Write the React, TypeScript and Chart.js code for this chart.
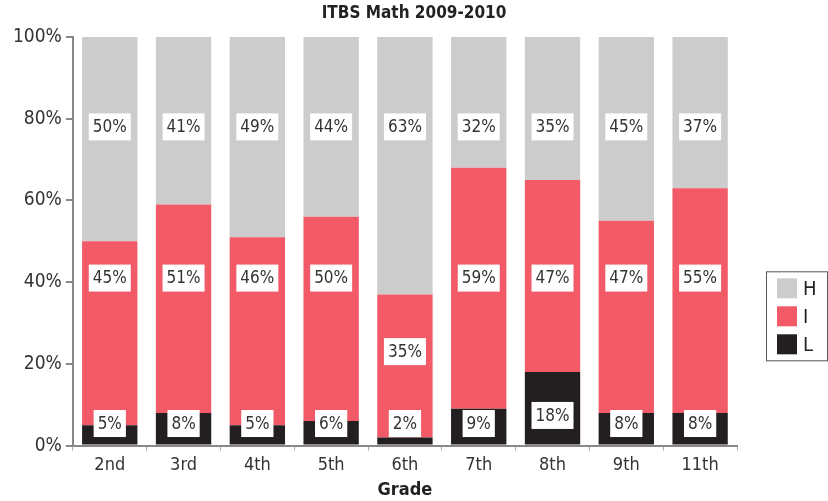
import React, { useEffect, useRef } from "react";
import { Chart, registerables } from "chart.js";

Chart.register(...registerables);

const grades = ["2nd", "3rd", "4th", "5th", "6th", "7th", "8th", "9th", "11th"];
const seriesL = [5, 8, 5, 6, 2, 9, 18, 8, 8];
const seriesI = [45, 51, 46, 50, 35, 59, 47, 47, 55];
const seriesH = [50, 41, 49, 44, 63, 32, 35, 45, 37];
const yTicks = [0, 20, 40, 60, 80, 100];
const TITLE = "ITBS Math 2009-2010";

const FONT = "'Liberation Sans Narrow', 'DejaVu Sans Condensed', 'Roboto', sans-serif";
const COLORS = { H: "#cccccc", I: "#f15a66", L: "#231f20" };

const labelPlugin = {
  id: "segLabels",
  afterDatasetsDraw(chart: any) {
    const ctx = chart.ctx;
    const y = chart.scales.y;
    ctx.save();
    ctx.font = `17px ${FONT}`;
    ctx.textAlign = "center";
    ctx.textBaseline = "middle";
    chart.data.datasets.forEach((ds: any, di: number) => {
      const meta = chart.getDatasetMeta(di);
      meta.data.forEach((bar: any, i: number) => {
        const L = seriesL[i];
        const top = L + seriesI[i];
        let v: number;
        if (ds.label === "L") v = Math.max(5.4, (L / 2) * 0.82);
        else if (ds.label === "I") v = top > 45 ? 41 : top - 14;
        else v = 78;
        const py = y.getPixelForValue(v);
        const text = ds.data[i] + "%";
        const w = ctx.measureText(text).width + 8;
        const h = 27;
        ctx.fillStyle = "#ffffff";
        ctx.fillRect(bar.x - w / 2, py - h / 2, w, h);
        ctx.fillStyle = "#333333";
        ctx.fillText(text, bar.x, py + 1);
      });
    });
    ctx.restore();
  },
};

const titleLegendPlugin = {
  id: "titleLegend",
  afterDraw(chart: any) {
    const ctx = chart.ctx;
    const area = chart.chartArea;
    ctx.save();
    ctx.font = `bold 17px ${FONT}`;
    ctx.fillStyle = "#222222";
    ctx.textAlign = "center";
    ctx.textBaseline = "middle";
    ctx.fillText(TITLE, chart.width / 2, 14);

    const items = [...chart.data.datasets].reverse();
    const left = area.right + 29;
    const top = (area.top + area.bottom) / 2 + 30;
    const w = 61;
    const h = 89;
    ctx.strokeStyle = "#555555";
    ctx.lineWidth = 1;
    ctx.strokeRect(left + 0.5, top + 0.5, w, h);
    ctx.font = `20px ${FONT}`;
    ctx.textAlign = "left";
    items.forEach((ds: any, k: number) => {
      const cy = top + 17 + k * 28;
      ctx.fillStyle = ds.backgroundColor;
      ctx.fillRect(left + 11, cy - 10, 20, 20);
      ctx.fillStyle = "#222222";
      ctx.fillText(ds.label, left + 37, cy + 1);
    });
    ctx.restore();
  },
};

export default function App() {
  const ref = useRef<HTMLCanvasElement>(null);
  useEffect(() => {
    document.body.style.margin = "0";
    const chart = new Chart(ref.current!, {
      type: "bar",
      data: {
        labels: grades,
        datasets: [
          { label: "L", data: seriesL, backgroundColor: COLORS.L, barPercentage: 0.75, categoryPercentage: 1 },
          { label: "I", data: seriesI, backgroundColor: COLORS.I, barPercentage: 0.75, categoryPercentage: 1 },
          { label: "H", data: seriesH, backgroundColor: COLORS.H, barPercentage: 0.75, categoryPercentage: 1 },
        ],
      },
      options: {
        responsive: false,
        animation: false,
        layout: { padding: { top: 37, left: 9, right: 91, bottom: 1 } },
        plugins: {
          legend: { display: false },
          tooltip: { enabled: false },
          title: { display: false },
        },
        scales: {
          x: {
            stacked: true,
            border: { display: true, color: "#888888", width: 2 },
            grid: { display: true, offset: true, drawOnChartArea: false, drawTicks: true, tickLength: 5, color: "#aaaaaa" },
            ticks: { color: "#333333", font: { family: FONT, size: 18 }, padding: 4 },
            title: { display: true, text: "Grade", color: "#222222", font: { family: FONT, size: 18, weight: "bold", lineHeight: 1.1 }, padding: { top: 0, bottom: 0 } },
          },
          y: {
            stacked: true,
            min: 0,
            max: 100,
            afterBuildTicks: (s: any) => {
              s.ticks = yTicks.map((v) => ({ value: v }));
            },
            border: { display: true, color: "#888888", width: 2 },
            grid: { display: true, drawOnChartArea: false, drawTicks: true, tickLength: 7, color: "#888888", lineWidth: 2 },
            ticks: { color: "#333333", font: { family: FONT, size: 19 }, padding: 4, callback: (v: any) => v + "%" },
          },
        },
      },
      plugins: [labelPlugin, titleLegendPlugin],
    });
    return () => chart.destroy();
  }, []);
  return <canvas ref={ref} width={828} height={501} style={{ display: "block" }} />;
}
